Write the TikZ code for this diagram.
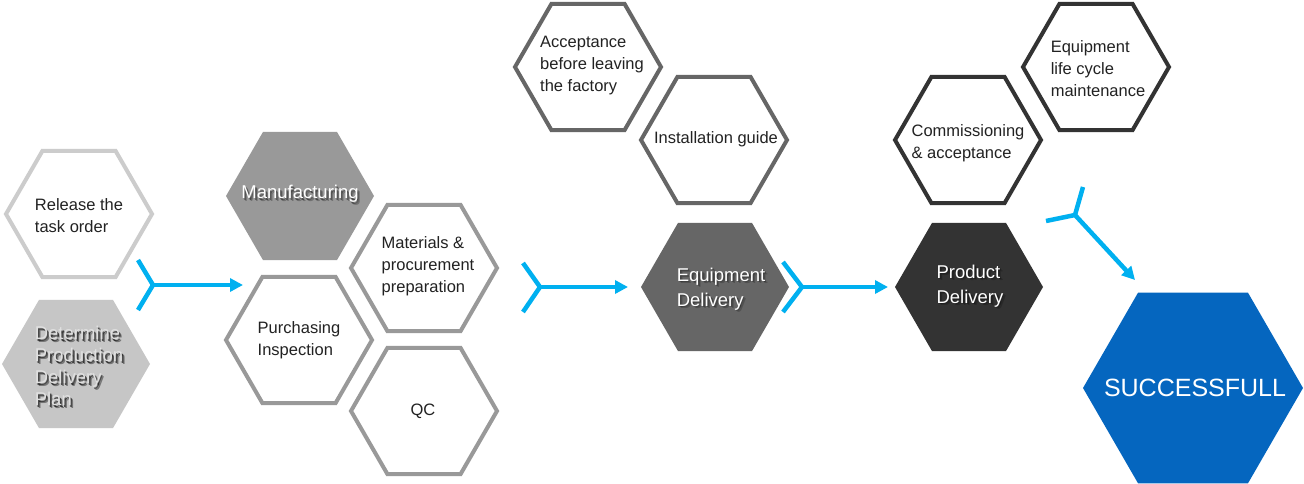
\documentclass[tikz,border=0pt]{standalone}
\usepackage{fontspec}
\setmainfont{Liberation Sans}
\usetikzlibrary{shapes.geometric,arrows.meta,calc}
\definecolor{lightg}{HTML}{CCCCCC}
\definecolor{planfill}{HTML}{C6C6C6}
\definecolor{midg}{HTML}{999999}
\definecolor{darkg}{HTML}{666666}
\definecolor{blackg}{HTML}{333333}
\definecolor{succ}{HTML}{0566BF}
\definecolor{arrowc}{HTML}{00B0F0}
\definecolor{txtc}{HTML}{222222}
\tikzset{
  hexa/.style={regular polygon, regular polygon sides=6, minimum size=148pt, inner sep=0pt, outer sep=0pt},
  hexo/.style={hexa, draw=#1, line width=4pt, fill=white, minimum size=146pt},
  hexf/.style={hexa, fill=#1},
  otext/.style={align=left, text=txtc, font=\fontsize{16.5}{22}\selectfont},
  ftext/.style={align=left, text=white, font=\fontsize{18.5}{25}\selectfont},
  shtext/.style={align=left, text=black, font=\fontsize{18.5}{25}\selectfont}
}
\tikzset{
  forkline/.style={draw=arrowc, line width=4.5pt, line join=miter},
  flow/.style={draw=arrowc, line width=4.5pt, -{Triangle[length=13pt,width=13pt]}}
}
\newcommand{\shadowtxt}[4]{%
  % #1 strength, #2 position, #3 text, #4 font spec
  \node[shtext, opacity=0.2*#1, font=#4] at ($#2+(2.6,2.6)$) {#3};
  \node[shtext, opacity=0.3*#1, font=#4] at ($#2+(1.4,1.4)$) {#3};
}
\begin{document}
\begin{tikzpicture}[x=1pt,y=-1pt]
\useasboundingbox (0,0) rectangle (1304,484);
\fill[white] (0,0) rectangle (1304,484);

% column 1
\node[hexo=lightg] (h1) at (79,214) {};
\node[otext] (t1) at (79,216) {Release the\\task order};
\node[hexf=planfill] (h2) at (76,364) {};
\shadowtxt{2}{(79,366)}{Determine\\Production\\Delivery\\Plan}{\fontsize{18.5}{22}\selectfont}
\node[ftext, text=white!88!black, font=\fontsize{18.5}{22}\selectfont] (t2) at (79,366) {Determine\\Production\\Delivery\\Plan};

% column 2
\node[hexf=midg] (h3) at (300,196) {};
\shadowtxt{1.3}{(300,194)}{Manufacturing}{\fontsize{18.5}{25}\selectfont}
\node[ftext] (t3) at (300,194) {Manufacturing};
\node[hexo=midg] (h4) at (299,340) {};
\node[otext] (t4) at (299,340) {Purchasing\\Inspection};
\node[hexo=midg] (h5) at (424,268) {};
\node[otext] (t5) at (428,266) {Materials \&\\procurement\\preparation};
\node[hexo=midg] (h6) at (424,411) {};
\node[otext] (t6) at (423,411) {QC};

% column 3
\node[hexo=darkg] (h7) at (588,67) {};
\node[otext] (t7) at (592,66) {Acceptance\\before leaving\\the factory};
\node[hexo=darkg] (h8) at (714,140) {};
\node[otext] (t8) at (716,139) {Installation guide};
\node[hexf=darkg] (h9) at (715,287) {};
\shadowtxt{1}{(721,289)}{Equipment\\Delivery}{\fontsize{18.5}{25}\selectfont}
\node[ftext] (t9) at (721,289) {Equipment\\Delivery};

% column 4
\node[hexf=blackg] (h10) at (969,287) {};
\shadowtxt{1}{(970,286)}{Product\\Delivery}{\fontsize{18.5}{25}\selectfont}
\node[ftext] (t10) at (970,286) {Product\\Delivery};
\node[hexo=blackg] (h11) at (968,140) {};
\node[otext] (t11) at (968,143) {Commissioning\\\& acceptance};
\node[hexo=blackg] (h12) at (1096,67) {};
\node[otext] (t12) at (1098,69) {Equipment\\life cycle\\maintenance};

% final
\node[hexf=succ, minimum size=220pt] (h13) at (1193,388) {};
\node[ftext, font=\fontsize{25}{28}\selectfont] (t13) at (1195,388) {SUCCESSFULL};

% forks and arrows
\coordinate (f1a) at (138,260); \coordinate (f1) at (153,285); \coordinate (f1b) at (138,310); \coordinate (e1) at (243,285);
\coordinate (f2a) at (523,263); \coordinate (f2) at (540,287); \coordinate (f2b) at (523,312); \coordinate (e2) at (628,287);
\coordinate (f3a) at (783,262); \coordinate (f3) at (802,287); \coordinate (f3b) at (783,312); \coordinate (e3) at (888,287);
\coordinate (f4a) at (1046,221); \coordinate (f4) at (1075,215); \coordinate (f4b) at (1083,187); \coordinate (e4) at (1135,280);
\foreach \i in {1,2,3,4}{
  \draw[forkline] (f\i a) -- (f\i) -- (f\i b);
  \draw[flow] (f\i) -- (e\i);
}
\end{tikzpicture}
\end{document}
